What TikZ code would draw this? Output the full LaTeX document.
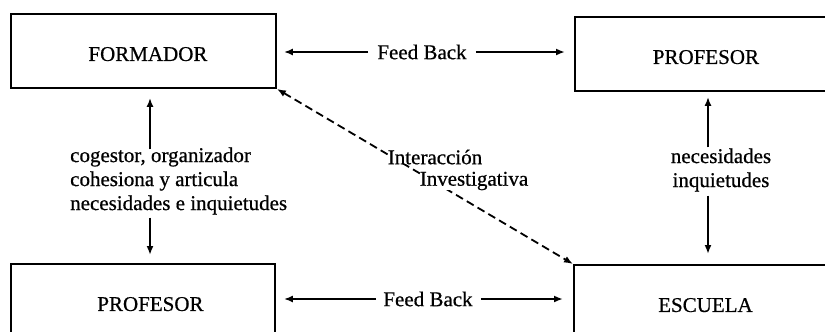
\documentclass[tikz,border=0pt]{standalone}
\usepackage{fontspec}
\setmainfont{Liberation Serif}
\newfontfamily\diagfont[FakeBold=0.6]{Liberation Serif}
\usetikzlibrary{arrows.meta}
\begin{document}
\begin{tikzpicture}[x=1pt,y=-1pt,
  box/.style={draw,line width=1.9pt,minimum width=#1,minimum height=74pt,anchor=north west,inner sep=0pt,text height=20pt,text depth=0pt,font=\diagfont\fontsize{21}{24}\selectfont},
  lbl/.style={font=\diagfont\fontsize{21}{24}\selectfont,inner sep=1pt,align=center},
  arr/.style={line width=1.8pt,-{Latex[length=9pt,width=7pt]}},
  dasharr/.style={line width=1.8pt,dash pattern=on 8pt off 4.5pt,{Latex[length=9pt,width=7pt]}-{Latex[length=9pt,width=7pt]}},
]
\useasboundingbox (0,0) rectangle (825,332);
\clip (0,0) rectangle (825,332);
\node[box=265pt] (formador) at (10,13) {\hspace*{9pt}FORMADOR};
\node[box=262pt] (proftop) at (574,16) {PROFESOR};
\node[box=264pt] (profbot) at (10,263) {\hspace*{15pt}PROFESOR};
\node[box=263pt] (escuela) at (573,264) {ESCUELA};

\node[lbl] (fb1) at (422,52) {Feed Back};
\node[lbl] (fb2) at (428,299) {Feed Back};
\draw[arr,shorten >=7pt,shorten <=8pt] (fb1.west) -- (formador.east |- fb1.west);
\draw[arr,shorten >=9pt,shorten <=8pt] (fb1.east) -- (proftop.west |- fb1.east);
\draw[arr,shorten >=8pt,shorten <=6pt] (fb2.west) -- (profbot.east |- fb2.west);
\draw[arr,shorten >=10pt,shorten <=7pt] (fb2.east) -- (escuela.west |- fb2.east);

\node[lbl,align=left,anchor=west] (coges) at (69,181) {cogestor, organizador\\cohesiona y articula\\necesidades e inquietudes};
\coordinate (lx) at (150,0);
\draw[arr,shorten >=9pt,shorten <=-3pt] (coges.north -| lx) -- (formador.south -| lx);
\draw[arr,shorten >=8pt,shorten <=2pt] (coges.south -| lx) -- (profbot.north -| lx);

\node[lbl] (need) at (721,170) {necesidades\\inquietudes};
\coordinate (rx) at (708,0);
\draw[arr,shorten >=5pt] (need.north -| rx) -- (proftop.south -| rx);
\draw[arr,shorten <=3pt,shorten >=10pt] (need.south -| rx) -- (escuela.north -| rx);

\draw[dasharr] (formador.south east) -- (escuela.north west);
\node[lbl,fill=white,inner sep=0pt] (inter) at (435,157) {Interacción};
\node[lbl,fill=white,inner sep=0pt] (inves) at (474,181) {Investigativa};
\end{tikzpicture}
\end{document}
